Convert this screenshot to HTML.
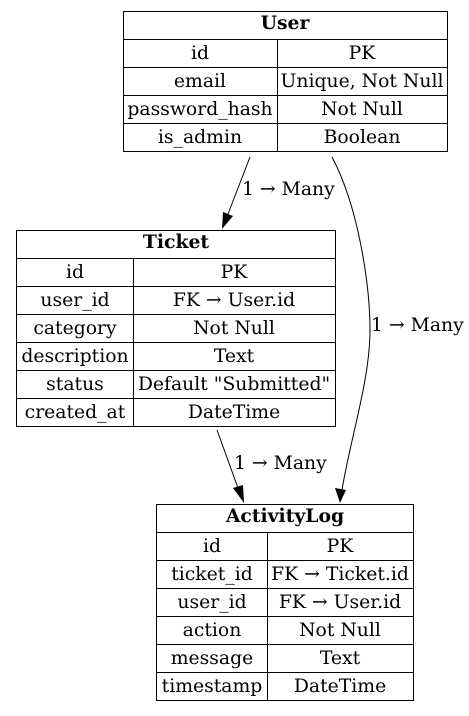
<!DOCTYPE html>
<html><head><style>body{margin:0;background:#fff}svg text{font-family:"DejaVu Serif","Liberation Serif",serif;font-size:18.8px}</style></head>
<body>
<svg width="469" height="711" xmlns="http://www.w3.org/2000/svg">
<rect width="469" height="711" fill="#fff"/>
<g fill="none" stroke="#000" stroke-width="1">
<rect x="123.5" y="11.5" width="324" height="140"/>
<path d="M123.5 39.5H447.5M123.5 67.5H447.5M123.5 95.5H447.5M123.5 123.5H447.5M277.5 39.5V151.5"/>
<rect x="16.5" y="230.5" width="319" height="196"/>
<path d="M16.5 258.5H335.5M16.5 286.5H335.5M16.5 314.5H335.5M16.5 342.5H335.5M16.5 370.5H335.5M16.5 398.5H335.5M133.5 258.5V426.5"/>
<rect x="156.5" y="504.5" width="257" height="196"/>
<path d="M156.5 532.5H413.5M156.5 560.5H413.5M156.5 588.5H413.5M156.5 616.5H413.5M156.5 644.5H413.5M156.5 672.5H413.5M267.5 532.5V700.5"/>
<path d="M250 157L228 214"/>
<path d="M332 157C360 210 370 290 370 330C370 380 350 440 342 490"/>
<path d="M217 430L238 488"/>
</g>
<g fill="#000">
<polygon points="222,229 223,212 233,216"/>
<polygon points="340,503 335,488 346,490"/>
<polygon points="244,503 233,488 243,485"/>
</g>
<g text-anchor="middle">
<text x="285" y="29" font-weight="bold">User</text>
<text x="200" y="59">id</text><text x="362" y="59">PK</text>
<text x="200" y="87">email</text><text x="362" y="87">Unique, Not Null</text>
<text x="200" y="115">password_hash</text><text x="362" y="115">Not Null</text>
<text x="200" y="143">is_admin</text><text x="362" y="143">Boolean</text>

<text x="176" y="248" font-weight="bold">Ticket</text>
<text x="75" y="278">id</text><text x="234" y="278">PK</text>
<text x="75" y="306">user_id</text><text x="234" y="306">FK → User.id</text>
<text x="75" y="334">category</text><text x="234" y="334">Not Null</text>
<text x="75" y="362">description</text><text x="234" y="362">Text</text>
<text x="75" y="390">status</text><text x="234" y="390">Default "Submitted"</text>
<text x="75" y="418">created_at</text><text x="234" y="418">DateTime</text>

<text x="285" y="522" font-weight="bold">ActivityLog</text>
<text x="212" y="552">id</text><text x="340" y="552">PK</text>
<text x="212" y="580">ticket_id</text><text x="340" y="580">FK → Ticket.id</text>
<text x="212" y="608">user_id</text><text x="340" y="608">FK → User.id</text>
<text x="212" y="636">action</text><text x="340" y="636">Not Null</text>
<text x="212" y="664">message</text><text x="340" y="664">Text</text>
<text x="212" y="692">timestamp</text><text x="340" y="692">DateTime</text>
</g>
<text x="242" y="195">1 → Many</text>
<text x="371" y="331">1 → Many</text>
<text x="234" y="469">1 → Many</text>
</svg>
</body></html>
